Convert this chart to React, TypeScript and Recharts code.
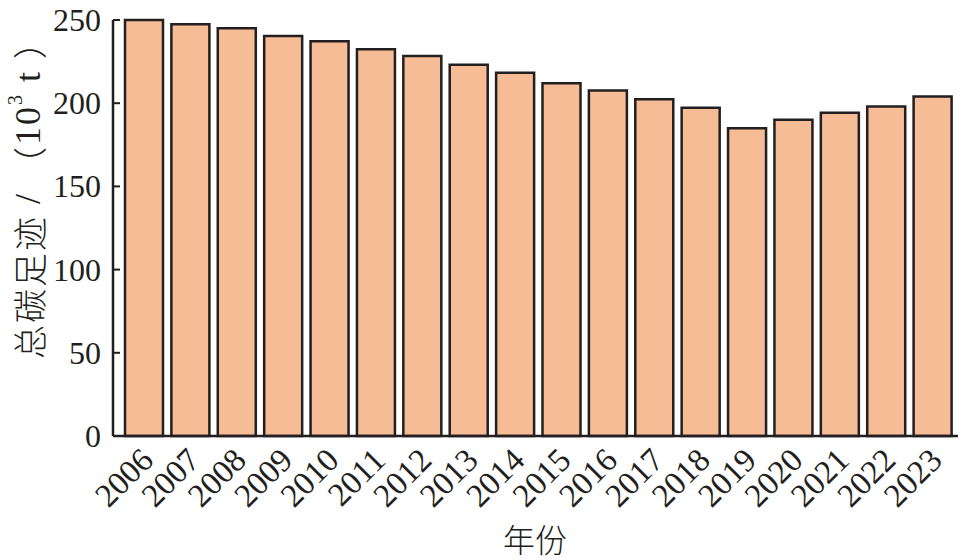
import React from 'react';
import { BarChart, Bar, XAxis, YAxis } from 'recharts';

const years = ['2006', '2007', '2008', '2009', '2010', '2011', '2012', '2013', '2014', '2015', '2016', '2017', '2018', '2019', '2020', '2021', '2022', '2023'];
const footprint = [250, 247.4, 245, 240.4, 237.2, 232.4, 228.4, 223.1, 218.3, 212, 207.6, 202.3, 197.3, 185, 190, 194.3, 198, 204];
const yTicks = [0, 50, 100, 150, 200, 250];

const data = years.map((y, i) => ({ year: y, value: footprint[i] }));

const INK = '#231f20';
const SERIF = "'Liberation Serif', 'Times New Roman', serif";
const CJK = "'Noto Sans CJK SC', sans-serif";

// ticks on the y axis point inwards, so the tick line is drawn here next to the label
const YTick = ({ x, y, payload }: any) => (
  <g>
    <line x1={x + 12} y1={y} x2={x + 19} y2={y} stroke={INK} strokeWidth={2} />
    <text x={x} y={y} textAnchor="end" dominantBaseline="central" fill={INK} fontSize={32} fontFamily={SERIF}>
      {payload.value}
    </text>
  </g>
);

const XTick = ({ x, y, payload }: any) => (
  <text
    x={x + 11}
    y={y + 18}
    textAnchor="end"
    fill={INK}
    fontSize={33}
    fontFamily={SERIF}
    transform={`rotate(-45 ${x + 11} ${y + 18})`}
  >
    {payload.value}
  </text>
);

const YLabel = () => (
  <text
    x={28}
    y={191}
    textAnchor="middle"
    dominantBaseline="central"
    fill={INK}
    fontSize={36}
    fontFamily={SERIF}
    letterSpacing={2}
    transform="rotate(-90 28 191)"
  >
    <tspan fontFamily={CJK} fontWeight={300} fontSize={34}>总碳足迹</tspan>
    <tspan> / </tspan>
    <tspan fontFamily={CJK} fontWeight={300} fontSize={34}>（</tspan>
    <tspan>10</tspan>
    <tspan fontSize={20} dy={-13}>3</tspan>
    <tspan dy={13}> t </tspan>
    <tspan fontFamily={CJK} fontWeight={300} fontSize={34}>）</tspan>
  </text>
);

const XLabel = () => (
  <text x={535} y={552} textAnchor="middle" fill={INK} fontSize={32} fontFamily={CJK} fontWeight={300}>
    年份
  </text>
);

export default function App() {
  return (
    <div style={{ position: 'absolute', left: 0, top: 0, width: 962, height: 560, background: '#fff' }}>
      <BarChart width={962} height={560} data={data} margin={{ top: 20, right: 4, left: 0, bottom: 0 }}>
        <XAxis
          dataKey="year"
          height={124}
          padding={{ left: 8, right: 2 }}
          axisLine={{ stroke: INK, strokeWidth: 2.5 }}
          tickLine={false}
          tick={<XTick />}
          interval={0}
          label={<XLabel />}
        />
        <YAxis
          width={113}
          domain={[0, 250]}
          ticks={yTicks}
          axisLine={{ stroke: INK, strokeWidth: 2.5 }}
          tickLine={false}
          tickSize={0}
          tickMargin={12}
          tick={<YTick />}
          label={<YLabel />}
        />
        <Bar dataKey="value" fill="#f6bc95" stroke={INK} strokeWidth={2.5} barSize={38} isAnimationActive={false} />
      </BarChart>
    </div>
  );
}
